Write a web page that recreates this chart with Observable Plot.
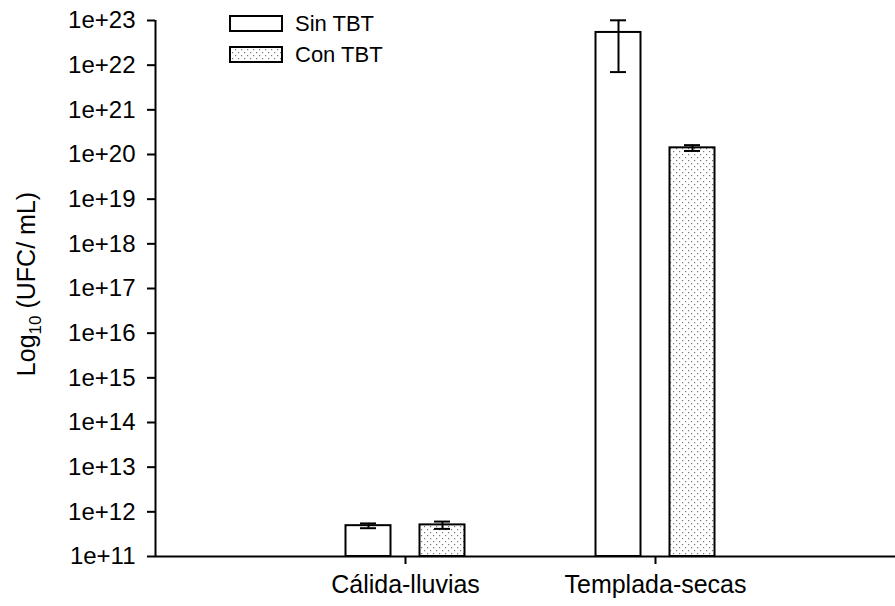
<!DOCTYPE html>
<html>
<head>
<meta charset="utf-8">
<script src="https://cdn.jsdelivr.net/npm/d3@7"></script>
<script src="https://cdn.jsdelivr.net/npm/@observablehq/plot@0.6"></script>
<style>
  html, body { margin: 0; padding: 0; background: #fff; }
  #chart { width: 895px; height: 606px; }
</style>
</head>
<body>
<div id="chart"></div>
<script>
// ---- data ----
const categories = ["Cálida-lluvias", "Templada-secas"];
const seriesNames = ["Sin TBT", "Con TBT"];
const sinTBT = [4.9e11, 5.4e22];
const sinTBTsd = [0.6e11, 4.7e22];
const conTBT = [5.1e11, 1.41e20];
const conTBTsd = [0.95e11, 0.21e20];
const yTickExponents = [11, 12, 13, 14, 15, 16, 17, 18, 19, 20, 21, 22, 23];

// ---- layout (x units: category slot = 1) ----
const barOffsets = { "Sin TBT": [-0.238, -0.058], "Con TBT": [0.058, 0.238] };
const capHalf = 0.032;

const rows = [];
categories.forEach((c, i) => {
  rows.push({ cat: c, pos: i + 1, series: "Sin TBT", v: sinTBT[i], sd: sinTBTsd[i] });
  rows.push({ cat: c, pos: i + 1, series: "Con TBT", v: conTBT[i], sd: conTBTsd[i] });
});
rows.forEach(d => {
  const [a, b] = barOffsets[d.series];
  d.x1 = d.pos + a; d.x2 = d.pos + b; d.xc = d.pos + (a + b) / 2;
  d.lo = d.v - d.sd; d.hi = d.v + d.sd;
});
const yTicks = yTickExponents.map(e => Math.pow(10, e));
const base = yTicks[0];
const FONT = "Liberation Sans, Arial, sans-serif";

const plot = Plot.plot({
  width: 895,
  height: 606,
  marginTop: 20,
  marginBottom: 50,
  marginLeft: 155,
  marginRight: 0,
  style: { fontFamily: FONT, color: "#000", background: "#fff" },
  x: { type: "linear", domain: [0, 2.96], axis: null },
  y: { type: "log", domain: [base, yTicks[yTicks.length - 1]], axis: null },
  marks: [
    Plot.rect(rows, {
      x1: "x1", x2: "x2", y1: () => base, y2: "v",
      fill: d => d.series === "Sin TBT" ? "#fff" : "url(#dots)",
      stroke: "#000", strokeWidth: 2
    }),
    Plot.ruleX(rows, { x: "xc", y1: "lo", y2: "hi", stroke: "#000", strokeWidth: 2 }),
    Plot.ruleY(rows, { y: "hi", x1: d => d.xc - capHalf, x2: d => d.xc + capHalf, stroke: "#000", strokeWidth: 2 }),
    Plot.ruleY(rows, { y: "lo", x1: d => d.xc - capHalf, x2: d => d.xc + capHalf, stroke: "#000", strokeWidth: 2 }),
    Plot.axisY({
      ticks: yTicks, tickSize: 8, tickPadding: 12, fontSize: 24,
      tickFormat: d => "1e+" + Math.round(Math.log10(d)), label: null,
      stroke: "#000", strokeWidth: 2
    }),
    Plot.axisX({
      ticks: categories.map((c, i) => i + 1), tickSize: 8, tickPadding: 11, fontSize: 25,
      tickFormat: d => categories[d - 1], label: null, stroke: "#000", strokeWidth: 2
    }),
    Plot.ruleX([0], { stroke: "#000", strokeWidth: 2 }),
    Plot.ruleY([base], { stroke: "#000", strokeWidth: 2 })
  ]
});

document.getElementById("chart").appendChild(plot);

// dotted pattern
const svg = d3.select(plot);
const defs = svg.insert("defs", ":first-child");
const pat = defs.append("pattern").attr("id", "dots").attr("patternUnits", "userSpaceOnUse")
  .attr("width", 6).attr("height", 6);
pat.append("rect").attr("width", 6).attr("height", 6).attr("fill", "#fff");
pat.append("rect").attr("x", 1).attr("y", 1).attr("width", 1.2).attr("height", 1.2).attr("fill", "#777");
pat.append("rect").attr("x", 4).attr("y", 4).attr("width", 1.2).attr("height", 1.2).attr("fill", "#777");

// y label with subscript
const yl = svg.append("text")
  .attr("transform", "translate(35,284) rotate(-90)")
  .attr("text-anchor", "middle")
  .attr("font-family", FONT)
  .attr("font-size", 25).attr("fill", "#000");
yl.append("tspan").text("Log");
yl.append("tspan").attr("font-size", 17).attr("dy", 6).text("10");
yl.append("tspan").attr("dy", -6).text(" (UFC/ mL)");

// legend
const leg = svg.append("g").attr("font-family", FONT).attr("font-size", 22).attr("text-anchor", "start");
seriesNames.forEach((s, i) => {
  const y0 = 16 + i * 31;
  leg.append("rect").attr("x", 230).attr("y", y0).attr("width", 52).attr("height", 15)
    .attr("fill", s === "Sin TBT" ? "#fff" : "url(#dots)").attr("stroke", "#000").attr("stroke-width", 2);
  leg.append("text").attr("x", 295).attr("y", y0 + 15).attr("fill", "#000").text(s);
});
</script>
</body>
</html>
